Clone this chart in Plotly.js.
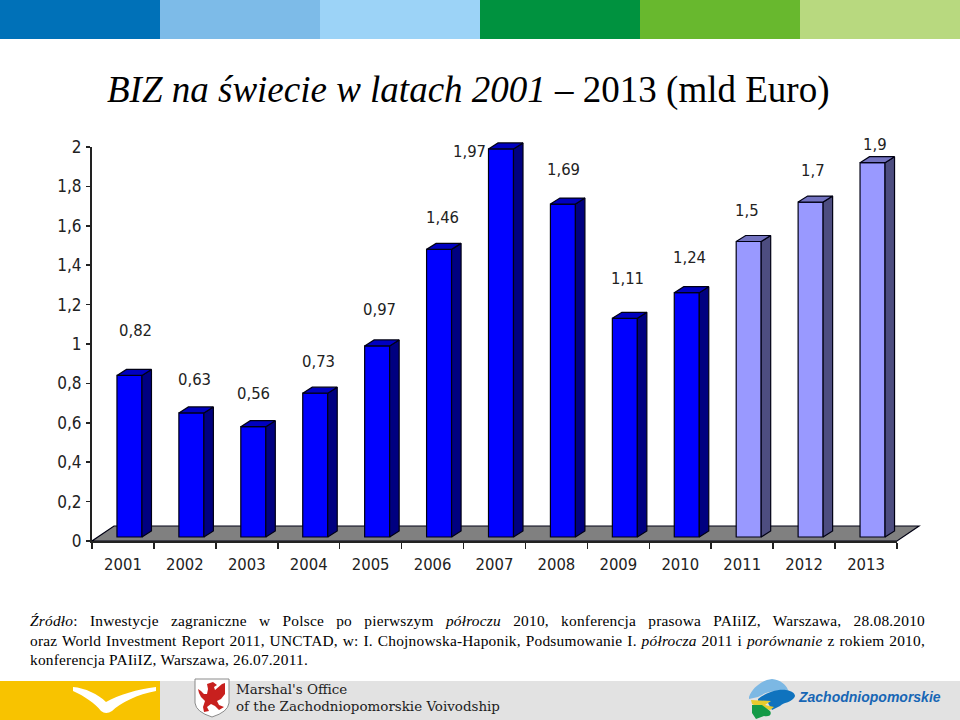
<!DOCTYPE html>
<html>
<head>
<meta charset="utf-8">
<script src="https://cdn.plot.ly/plotly-3.0.1.min.js"></script>
<style>html,body{margin:0;padding:0;background:#fff}#c{width:960px;height:720px}</style>
</head>
<body>
<div id="c"></div>
<script>
const actualYears = [2001,2002,2003,2004,2005,2006,2007,2008,2009,2010];
const actualValues = [0.82,0.63,0.56,0.73,0.97,1.46,1.97,1.69,1.11,1.24];
const forecastYears = [2011,2012,2013];
const forecastValues = [1.5,1.7,1.9];
const labelText = ['0,82','0,63','0,56','0,73','0,97','1,46','1,97','1,69','1,11','1,24','1,5','1,7','1,9'];
const labelShiftX = [13,10,7,9.5,8.5,9.5,-25.5,7.5,9.5,9.5,5,8.5,8.5];
const labelShiftY = [48.5,37,37,36,40,36,1,39,44,39,35,36,22];
const bandColors = ['#0071B8','#7DBBE8','#9CD3F7','#00923F','#68B82E','#B8D97F'];
const titleItalic = 'BIZ na świecie w latach 2001 – ';
const titleRegular = '2013 (mld Euro)';
const sourceLines = [
  '<i>Źródło</i>: Inwestycje zagraniczne w Polsce po pierwszym <i>półroczu</i> 2010, konferencja prasowa PAIiIZ, Warszawa, 28.08.2010',
  'oraz World Investment Report 2011, UNCTAD, w: I. Chojnowska-Haponik, Podsumowanie I. <i>półrocza</i> 2011 i <i>porównanie</i> z rokiem 2010,',
  'konferencja PAIiIZ, Warszawa, 26.07.2011.'
];

const W = 960, H = 720;
const left = 92, right = 897, zero = 541, top2 = 147;
const years = actualYears.concat(forecastYears);
const values = actualValues.concat(forecastValues);
const xUnit = (right - left) / years.length;
const yUnit = (zero - top2) / 2;
const x0 = years[0] - 0.5, xEnd = years[years.length - 1] + 0.5;
const pxX = p => x0 + (p - left) / xUnit;
const pxY = p => (zero - p) / yUnit;

const barWidth = 25 / xUnit, barOffset = -6 / xUnit, barBase = 4 / yUnit;
const depthX = 9.5 / xUnit, depthY = 6 / yUnit;
const edge = '#000014';

function faces(xs, ys) {
  const side = {x: [], y: []}, top = {x: [], y: []};
  xs.forEach((yr, i) => {
    const a = yr + barOffset, b = a + barWidth, t = ys[i] + barBase;
    side.x.push(b, b + depthX, b + depthX, b, b, null);
    side.y.push(barBase, barBase + depthY, t + depthY, t, barBase, null);
    top.x.push(a, a + depthX, b + depthX, b, a, null);
    top.y.push(t, t + depthY, t + depthY, t, t, null);
  });
  return {side, top};
}
function polyTrace(p, fill) {
  return {type: 'scatter', mode: 'lines', x: p.x, y: p.y, fill: 'toself', fillcolor: fill,
          line: {color: edge, width: 1.2}, hoverinfo: 'skip', showlegend: false, xaxis: 'x', yaxis: 'y'};
}
function barTrace(xs, ys, fill) {
  return {type: 'bar', x: xs, y: ys, base: barBase, width: barWidth, offset: barOffset,
          marker: {color: fill, line: {color: edge, width: 1.2}}, showlegend: false,
          hoverinfo: 'x+y', xaxis: 'x', yaxis: 'y'};
}
const fa = faces(actualYears, actualValues), ff = faces(forecastYears, forecastValues);
const floorDX = 22 / xUnit, floorDY = 15 / yUnit;

const data = [
  polyTrace(fa.side, '#000080'), polyTrace(fa.top, '#0000C0'),
  polyTrace(ff.side, '#4D4D80'), polyTrace(ff.top, '#7373C0'),
  barTrace(actualYears, actualValues, '#0000FF'),
  barTrace(forecastYears, forecastValues, '#9999FF'),
  {type: 'scatter', mode: 'none', x: years, y: values, xaxis: 'x2', yaxis: 'y2', hoverinfo: 'skip', showlegend: false}
];

const pathPx = s => s.replace(/(-?[\d.]+)[ ,](-?[\d.]+)/g, (m, x, y) => (x / W) + ',' + (1 - y / H));
const pathShape = (d, fill, line) => ({type: 'path', xref: 'paper', yref: 'paper', path: pathPx(d), fillcolor: fill,
  line: line ? {color: line, width: 1} : {width: 0}, layer: 'below'});
const rectShape = (a, b, c, d, fill) => ({type: 'rect', xref: 'paper', yref: 'paper', x0: a / W, x1: b / W, y0: 1 - d / H, y1: 1 - c / H,
  fillcolor: fill, line: {width: 0}, layer: 'below'});

const shapes = bandColors.map((c, i) => rectShape(i * 160, (i + 1) * 160, 0, 39, c));
shapes.push(
  {type: 'path', xref: 'x', yref: 'y', layer: 'below', fillcolor: '#808080', line: {color: edge, width: 1.2},
   path: 'M' + x0 + ',0 L' + xEnd + ',0 L' + (xEnd + floorDX) + ',' + floorDY + ' L' + (x0 + floorDX) + ',' + floorDY + ' Z'},
  rectShape(0, 960, 681, 720, '#E2E2E2'),
  rectShape(0, 160, 681, 720, '#F8C300'),
  pathShape('M73 687 C85 688 98 694 106 702 C118 695 138 689 156 687 L156 691 C138 694 120 703 112 711 Q106 715 101 711 C95 703 84 696 73 691 Z', '#FFFFFF'),
  pathShape('M195 679 L229 679 L229 703 Q228 712 212 717 Q196 712 195 703 Z', '#FFFFFF', '#8A8A8A'),
  pathShape('M207 684 L213 682 L217 685 L214 687 L215 690 L222 684 L225 683 L225 694 L221 699 L217 701 L219 705 L224 707 L219 710 L215 706 L211 704 L207 707 L209 711 L204 712 L203 707 L205 701 L201 697 L199 693 L198 689 L201 691 L204 694 L207 694 L208 689 Z', '#C8201E'),
  pathShape('M749 697 C752 688 762 680 772 679 C780 680 786 684 788 690 L780 692 C772 690 765 693 758 697 L749 699 Z', '#7CB8E4'),
  pathShape('M758 699 C766 693 776 689 786 690 C793 691 797 695 794 698 C790 703 784 702 780 706 L772 710 L768 703 L758 701 Z', '#0F73BE'),
  pathShape('M751 700 L771 701 L765 705 L774 707 L770 710 L758 707 L752 704 Z', '#E7CB2E'),
  pathShape('M752 705 L762 705 L770 711 C772 714 770 717 764 716 L756 719 L752 713 Z', '#139A47')
);

const text = (x, y, s, size, family, color) => ({xref: 'paper', yref: 'paper', x: x / W, y: 1 - y / H, text: s,
  showarrow: false, xanchor: 'left', yanchor: 'middle', align: 'left', font: {family, size, color}});

const chartFont = 'DejaVu Sans Condensed';
const annotations = years.map((yr, i) => ({xref: 'x', yref: 'y', x: yr, y: values[i], text: labelText[i], showarrow: false,
  xshift: labelShiftX[i], yshift: labelShiftY[i], font: {family: chartFont, size: 16.5, color: '#222'}}));
const serif = 'Liberation Serif';
annotations.push(
  text(28, 620, sourceLines[0], 15.4, serif, '#000'),
  text(28, 640, sourceLines[1], 15.4, serif, '#000'),
  text(28, 659, sourceLines[2], 15.4, serif, '#000'),
  text(234, 689, "Marshal's Office", 13.45, 'DejaVu Serif', '#1c1c1c'),
  text(234, 706, 'of the Zachodniopomorskie Voivodship', 13.45, 'DejaVu Serif', '#1c1c1c'),
  text(796, 697, '<b><i>Zachodniopomorskie</i></b>', 14, 'Liberation Sans', '#1766B5')
);

const layout = {
  width: W, height: H, margin: {l: 0, r: 0, t: 0, b: 0}, autosize: false,
  paper_bgcolor: '#fff', plot_bgcolor: 'rgba(0,0,0,0)', showlegend: false, separators: ', ',
  barmode: 'overlay',
  title: {text: '<i>' + titleItalic + '</i>' + titleRegular, x: 107 / W, xanchor: 'left', xref: 'paper', y: 1 - 89 / H, yanchor: 'middle', yref: 'paper',
          font: {family: serif, size: 37, color: '#000'}},
  xaxis: {domain: [0, 1], range: [pxX(0), pxX(W)], visible: false, fixedrange: true},
  yaxis: {domain: [0, 1], range: [pxY(H), pxY(0)], visible: false, fixedrange: true},
  xaxis2: {domain: [left / W, right / W], range: [x0, xEnd], anchor: 'y2', showgrid: false, zeroline: false,
           showline: true, linecolor: '#222', linewidth: 2,
           tickmode: 'array', tickvals: years, ticktext: years.map(String), ticks: '', ticklabelstandoff: 7,
           tickfont: {family: chartFont, size: 16.5, color: '#222'},
           minor: {tickmode: 'array', tickvals: years.map(y => y - 0.5).concat([xEnd]), ticks: 'outside', ticklen: 6, tickwidth: 1.5, tickcolor: '#222', showgrid: false}},
  yaxis2: {domain: [1 - zero / H, 1 - top2 / H], range: [0, 2], anchor: 'x2', showgrid: false, zeroline: false,
           showline: true, linecolor: '#222', linewidth: 2, tickmode: 'linear', tick0: 0, dtick: 0.2,
           ticks: 'outside', ticklen: 4, tickwidth: 1.5, tickcolor: '#222', ticklabelstandoff: 1,
           tickfont: {family: chartFont, size: 17, color: '#222'}},
  shapes, annotations
};

Plotly.newPlot('c', data, layout, {displayModeBar: false, staticPlot: true}).then(() => {
  const notes = Array.from(document.querySelectorAll('.annotation-text'));
  const last = notes.find(t => t.textContent.startsWith('konferencja'));
  const s3 = last.textContent;
  const ls = (278 - last.getComputedTextLength()) / s3.length;
  notes.forEach(t => {
    const s = t.textContent;
    if (s === s3 || s.startsWith('Źródło') || s.startsWith('oraz')) t.style.letterSpacing = ls + 'px';
    if (s.startsWith('Źródło') || s.startsWith('oraz')) {
      const gaps = s.split(' ').length - 1;
      t.style.wordSpacing = ((895 - t.getComputedTextLength()) / gaps) + 'px';
    }
  });
});
</script>
</body>
</html>
